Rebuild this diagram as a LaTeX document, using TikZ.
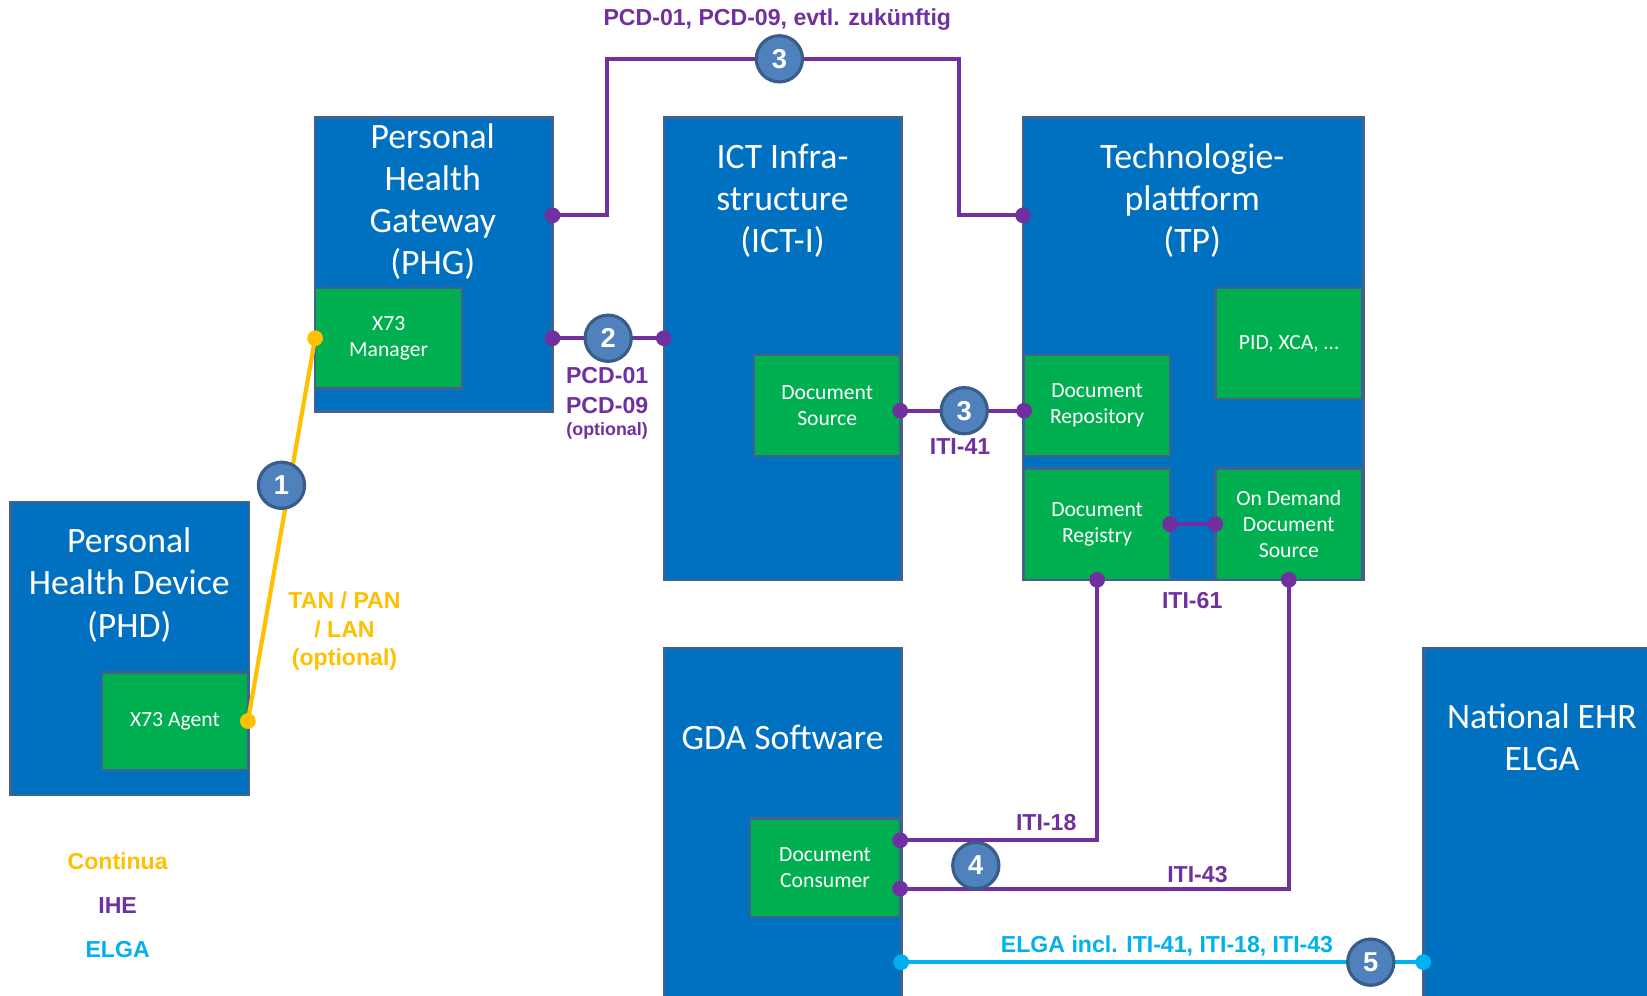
\documentclass[tikz,border=0pt]{standalone}
\usepackage{fontspec}
\setmainfont{Carlito}
\newfontfamily\lblfont{Liberation Sans}
\usetikzlibrary{positioning,calc}
\definecolor{boxblue}{HTML}{0070C0}
\definecolor{boxedge}{RGB}{65,98,140}
\definecolor{boxgreen}{HTML}{00B050}
\definecolor{ihecol}{HTML}{7030A0}
\definecolor{contcol}{HTML}{FFC000}
\definecolor{elgacol}{HTML}{00B0F0}
\definecolor{circfill}{HTML}{4F81BD}
\definecolor{circedge}{HTML}{385D8A}
\begin{document}
\begin{tikzpicture}[x=0.5pt,y=-0.5pt,
    bigbox/.style={draw=boxedge, line width=1.2pt, fill=boxblue, inner sep=0pt, outer sep=0pt},
    subbox/.style={draw=boxedge, line width=1.2pt, fill=boxgreen, inner sep=0pt, outer sep=0pt,
      text=white, align=center, font=\fontsize{10.3}{12.5}\selectfont},
    boxtitle/.style={text=white, align=center, font=\fontsize{17}{20}\selectfont},
    ihe/.style={draw=ihecol, line width=2pt},
    lbl/.style={text=#1, align=center, font=\lblfont\bfseries\fontsize{11}{13.5}\selectfont},
    ptdot/.style={circle, fill=#1, inner sep=0pt, minimum size=7.5pt},
    numcirc/.style={circle, fill=circfill, draw=circedge, line width=1.5pt, minimum size=22pt,
      inner sep=0pt, text=white, font=\lblfont\bfseries\fontsize{13}{13}\selectfont}]
  \useasboundingbox (0,0) rectangle (1568,948);
  \clip (0,0) rectangle (1568,948);
  % big boxes
  \node[bigbox, minimum width=113.5pt, minimum height=139.5pt] (phd) at (123.5,617.5) {};
  \node[bigbox, minimum width=113pt, minimum height=140pt] (phg) at (413,252) {};
  \node[bigbox, minimum width=113pt, minimum height=220pt] (ict) at (745,332) {};
  \node[bigbox, minimum width=162pt, minimum height=220pt] (tp) at (1136,332) {};
  \node[bigbox, minimum width=113pt, minimum height=176.5pt] (gda) at (745,793.5) {};
  \node[bigbox, minimum width=113pt, minimum height=176.5pt] (elga) at (1468,793.5) {};
  % titles
  \node[boxtitle] (phdtitle) at (123,557) {Personal\\Health Device\\(PHD)};
  \node[boxtitle] (phgtitle) at (412,192) {Personal\\Health\\Gateway\\(PHG)};
  \node[boxtitle] (icttitle) at (745,191) {ICT Infra-\\structure\\(ICT-I)};
  \node[boxtitle] (tptitle) at (1135,191) {Technologie-\\plattform\\(TP)};
  \node[boxtitle] (gdatitle) at (745,702) {GDA Software};
  \node[boxtitle] (elgatitle) at (1468,702) {National EHR\\ELGA};
  % inner boxes
  \node[subbox, minimum width=69.5pt, minimum height=46.5pt] (agent) at (166.5,686.5) {X73 Agent};
  \node[subbox, minimum width=70pt, minimum height=48pt] (manager) at (370,322) {X73\\Manager};
  \node[subbox, minimum width=69.5pt, minimum height=48pt] (source) at (787.5,386) {Document\\Source};
  \node[subbox, minimum width=70pt, minimum height=53pt] (pid) at (1227,327) {PID, XCA, …};
  \node[subbox, minimum width=69.5pt, minimum height=48pt] (repo) at (1044.5,386) {Document\\Repository};
  \node[subbox, minimum width=69.5pt, minimum height=53pt] (registry) at (1044.5,499) {Document\\Registry};
  \node[subbox, minimum width=70pt, minimum height=53pt] (ondemand) at (1227,499) {On Demand\\Document\\Source};
  \node[subbox, minimum width=71.5pt, minimum height=47pt] (consumer) at (785.5,826) {Document\\Consumer};
  % connector ends
  \coordinate (t1) at (phg.east |- 0,205);
  \coordinate (t2) at (tp.west |- 0,205);
  \coordinate (p2a) at (phg.east |- manager);
  \coordinate (p2b) at (ict.west |- manager);
  \coordinate (i41a) at (source.east |- 0,391);
  \coordinate (i41b) at (repo.west |- 0,391);
  \coordinate (i18) at (consumer.east |- 0,800);
  \coordinate (i43) at (consumer.east |- 0,846);
  \coordinate (e1) at (gda.east |- 0,916);
  \coordinate (e2) at (elga.west |- 0,916);
  % connectors
  \draw[draw=contcol, line width=2pt] (manager.west) -- (agent.east);
  \draw[ihe] (t1) -| (578,56) -| (913,205) -- (t2);
  \draw[ihe] (p2a) -- (p2b);
  \draw[ihe] (i41a) -- (i41b);
  \draw[ihe] (registry.east) -- (ondemand.west);
  \draw[ihe] (registry.south) |- (i18);
  \draw[ihe] (ondemand.south) |- (i43);
  \draw[draw=elgacol, line width=2pt] (e1) -- (e2);
  \foreach \p in {t1,t2,p2a,p2b,i41a,i41b,registry.east,ondemand.west,
      registry.south,ondemand.south,i18,i43}
    \node[ptdot=ihecol] at (\p) {};
  \node[ptdot=contcol] at (manager.west) {};
  \node[ptdot=contcol] at (agent.east) {};
  \node[ptdot=elgacol] at (e1) {};
  \node[ptdot=elgacol] at (e2) {};
  % numbers
  \node[numcirc] (n1) at (268,462) {1};
  \node[numcirc] (n2) at ($(p2a)!0.5!(p2b)$) {2};
  \node[numcirc] (n3a) at (742,56) {3};
  \node[numcirc] (n3b) at (918,391) {3};
  \node[numcirc] (n4) at (929,824) {4};
  \node[numcirc] (n5) at (1305,916) {5};
  % labels
  \node[lbl=ihecol] (top) at (740,19) {PCD-01, PCD-09, evtl. zukünftig};
  \node[lbl=ihecol, font=\lblfont\bfseries\fontsize{11}{14}\selectfont] (pcd) at (578,372) {PCD-01\\PCD-09};
  \node[lbl=ihecol, font=\lblfont\bfseries\fontsize{8.5}{10}\selectfont] (opt) at (578,410) {(optional)};
  \node[lbl=ihecol] (l41) at (914,425) {ITI-41};
  \node[lbl=ihecol] (l61) at (1135,572) {ITI-61};
  \node[lbl=ihecol] (l18) at (996,783) {ITI-18};
  \node[lbl=ihecol] (l43) at (1140,833) {ITI-43};
  \node[lbl=elgacol] (lelga) at (1111,901) {ELGA incl. ITI-41, ITI-18, ITI-43};
  \node[lbl=contcol] (ltan) at (328,601) {TAN / PAN\\/ LAN\\(optional)};
  % legend
  \node[lbl=contcol] (leg1) at (112,820) {Continua};
  \node[lbl=ihecol] (leg2) at (112,862) {IHE};
  \node[lbl=elgacol] (leg3) at (112,904) {ELGA};
\end{tikzpicture}
\end{document}
